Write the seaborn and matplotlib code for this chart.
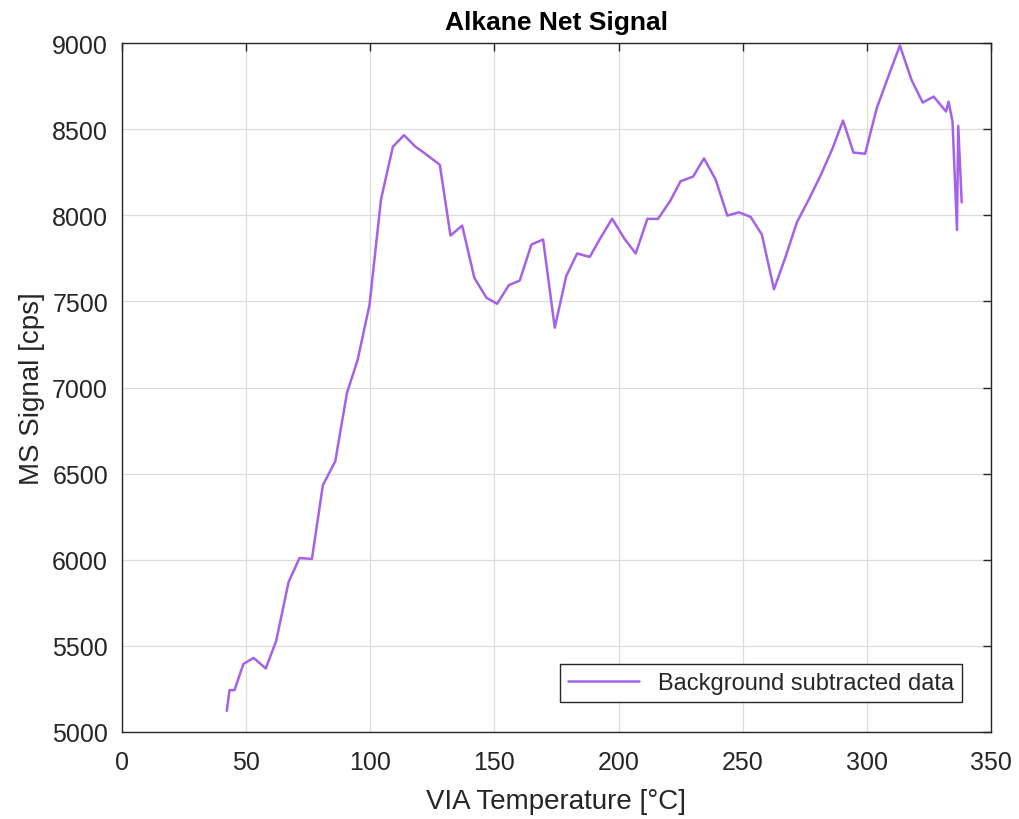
import matplotlib
matplotlib.use("Agg")
import matplotlib.pyplot as plt
import seaborn as sns
import pandas as pd

temperature = [42.2, 43.3, 45.3, 48.9, 53.0, 57.9, 62.1, 67.1, 71.5, 76.5,
               80.9, 85.9, 90.6, 94.9, 99.7, 104.3, 109.1, 113.6, 118.1, 121.5,
               128.0, 132.3, 137.0, 141.9, 146.8, 151.1, 155.8, 160.2, 164.9, 169.6,
               174.3, 178.9, 183.3, 188.4, 192.7, 197.4, 202.4, 206.9, 211.6, 215.9,
               220.7, 225.0, 230.0, 234.4, 239.1, 243.8, 248.5, 253.2, 257.7, 262.6,
               267.3, 271.8, 276.7, 281.5, 286.2, 290.4, 294.6, 299.3, 304.0, 308.6,
               313.3, 318.0, 322.5, 326.9, 331.9, 332.9, 334.5, 336.3, 336.8, 338.2]
signal = [5123, 5243, 5243, 5395, 5430, 5369, 5529, 5871, 6010, 6005,
          6433, 6572, 6968, 7160, 7481, 8091, 8398, 8465, 8399, 8364,
          8293, 7882, 7940, 7637, 7521, 7486, 7594, 7621, 7830, 7859,
          7347, 7646, 7778, 7758, 7868, 7980, 7863, 7778, 7979, 7979,
          8081, 8198, 8224, 8330, 8207, 7998, 8017, 7990, 7888, 7570,
          7761, 7958, 8094, 8235, 8389, 8550, 8364, 8357, 8622, 8804,
          8985, 8785, 8654, 8689, 8602, 8660, 8544, 7915, 8519, 8075]

x_ticks = [0, 50, 100, 150, 200, 250, 300, 350]
y_ticks = [5000, 5500, 6000, 6500, 7000, 7500, 8000, 8500, 9000]

df = pd.DataFrame({"temp": temperature, "signal": signal})

sns.set_style("whitegrid")
plt.rcParams["font.family"] = ["Liberation Sans", "DejaVu Sans"]

fig = plt.figure(figsize=(10.19, 8.2), dpi=100)
ax = fig.add_axes([122 / 1019, 1 - 733 / 820, (991 - 122) / 1019, (733 - 44) / 820])

line_color = "#a462e6"
sns.lineplot(data=df, x="temp", y="signal", ax=ax, color=line_color, linewidth=1.8,
             label="Background subtracted data", sort=False, estimator=None)

ax.set_xlim(0, 350)
ax.set_ylim(5000, 9000)
ax.set_xticks(x_ticks)
ax.set_yticks(y_ticks)
ax.tick_params(axis="both", which="both", direction="in", length=6, width=1,
               colors="#262626", labelsize=18, top=True, right=True,
               labeltop=False, labelright=False)
ax.tick_params(axis="x", pad=13)
ax.tick_params(axis="y", pad=10)
ax.grid(True, color="#dcdcdc", linewidth=0.9)
for s in ax.spines.values():
    s.set_color("#262626")
    s.set_linewidth(1.0)
    s.set_visible(True)

ax.set_xlabel("VIA Temperature [°C]", fontsize=20, color="#262626", labelpad=10)
ax.set_ylabel("MS Signal [cps]", fontsize=20, color="#262626", labelpad=5)
ax.set_title("Alkane Net Signal", fontsize=19, fontweight="bold", color="black", pad=10)

leg = ax.legend(loc="lower right", bbox_to_anchor=(0.967, 0.0435), borderaxespad=0,
                fontsize=17, frameon=True, fancybox=False, edgecolor="#262626",
                framealpha=1, handlelength=3.0, borderpad=0.35)
leg.get_frame().set_linewidth(1.0)

fig.savefig("out.png", dpi=100, facecolor="white")
